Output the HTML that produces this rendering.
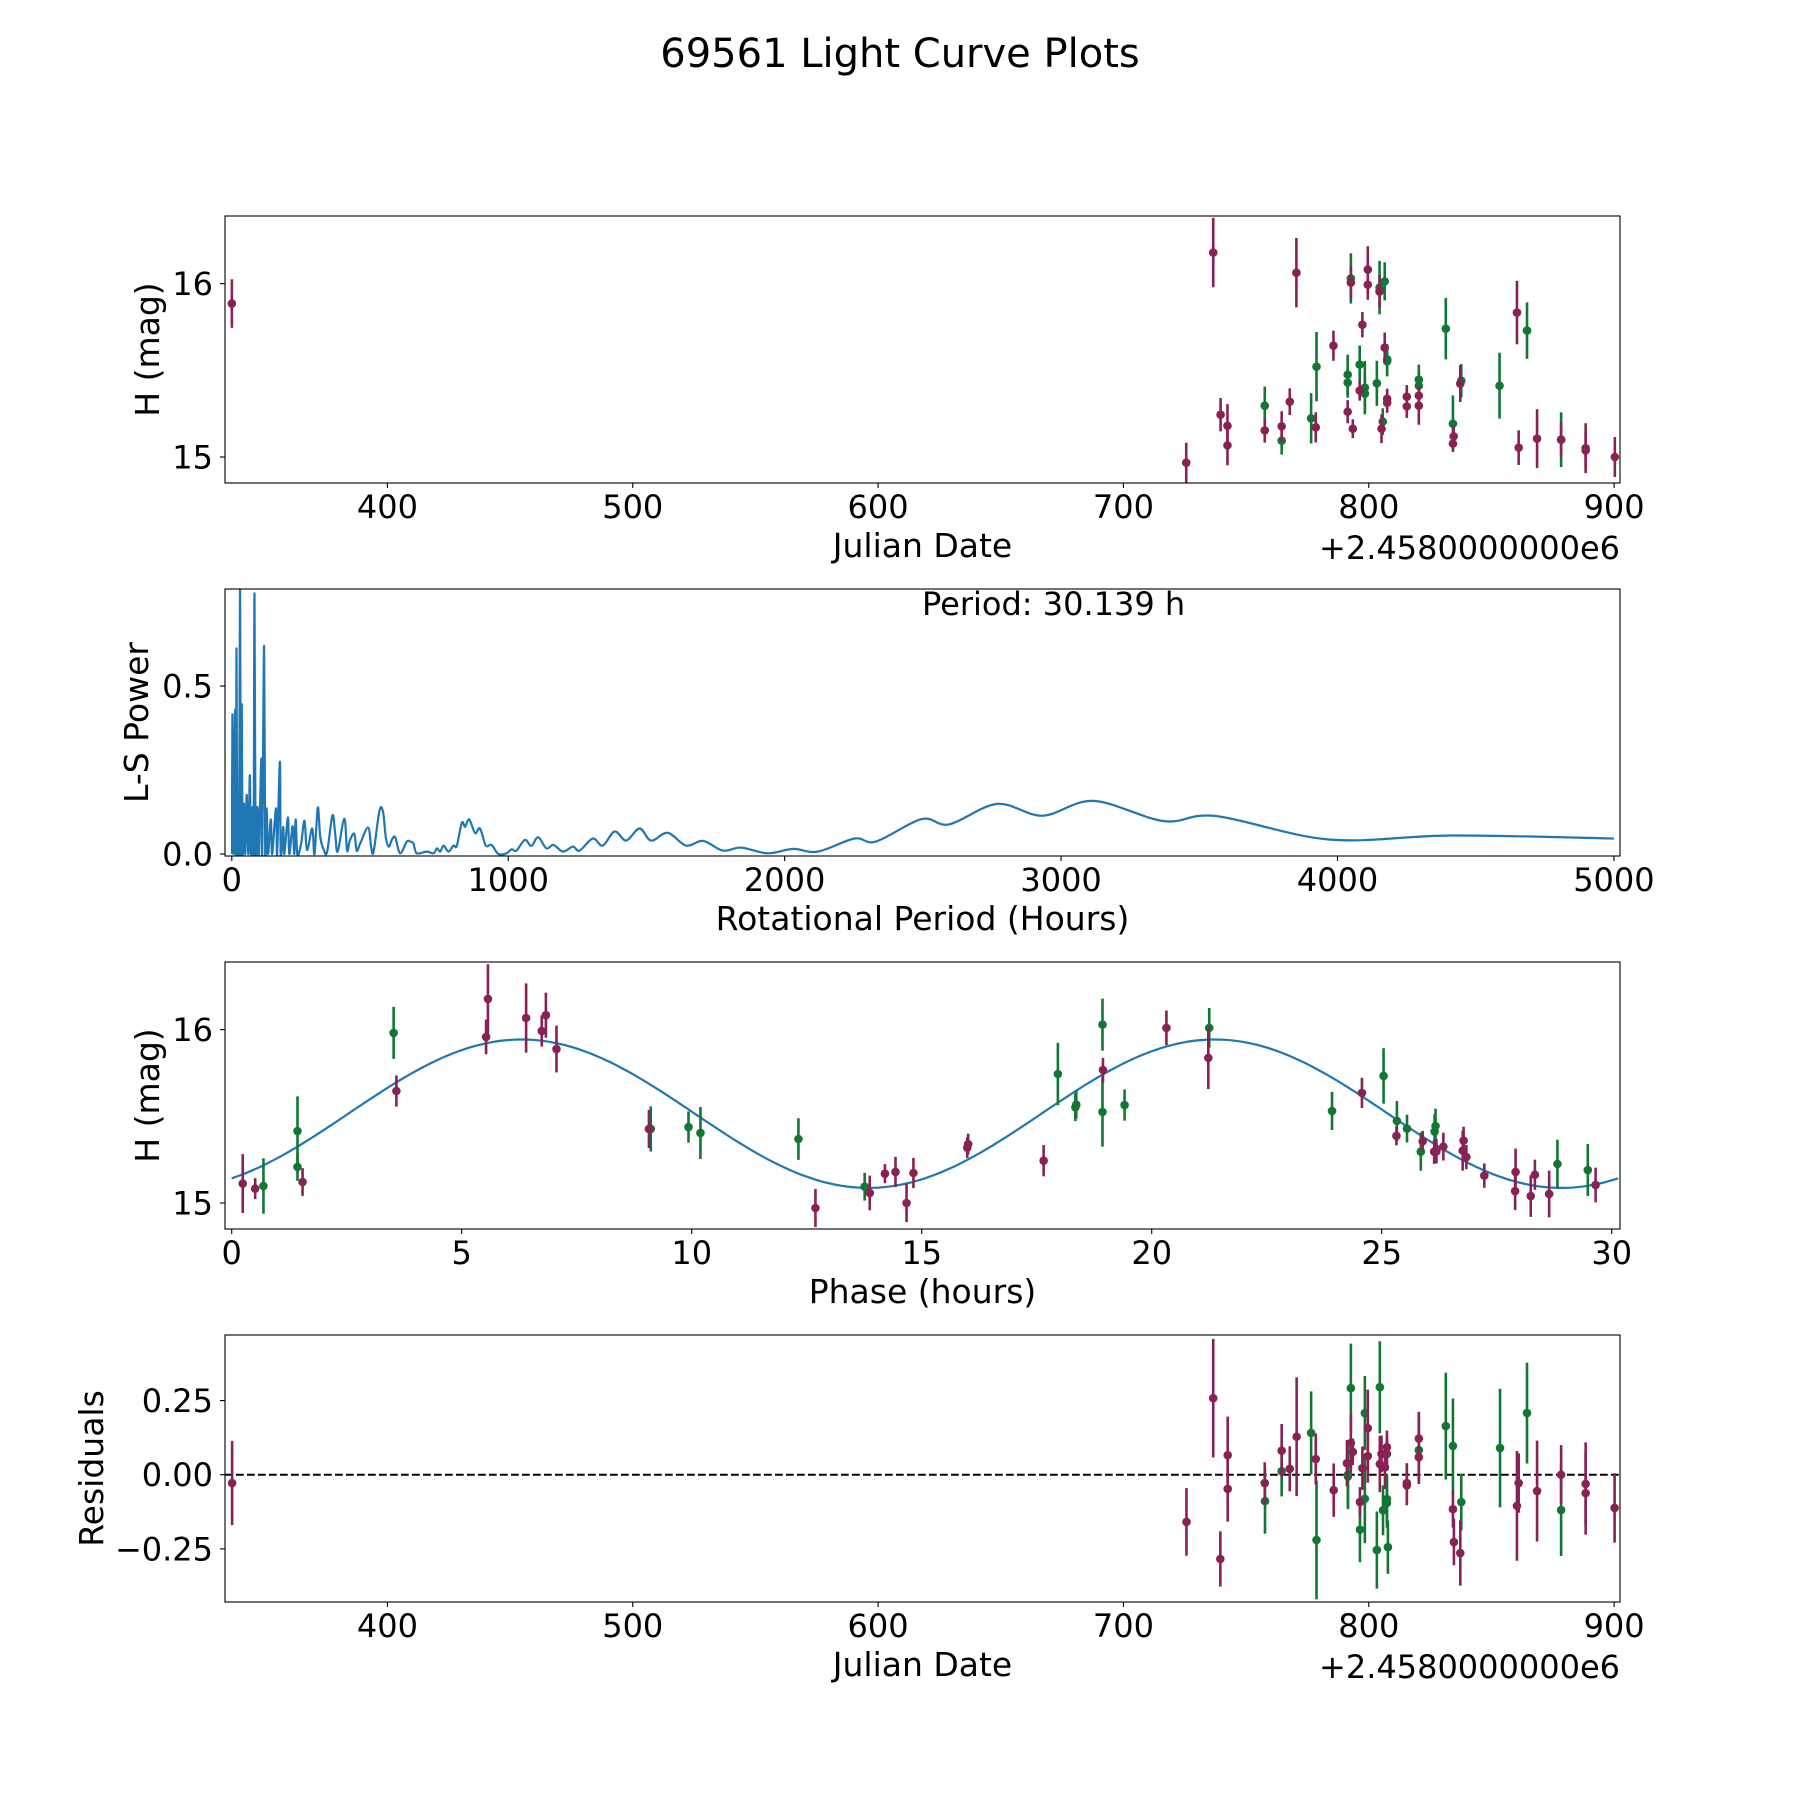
<!DOCTYPE html>
<html><head><meta charset="utf-8"><title>69561 Light Curve Plots</title>
<style>
html,body{margin:0;padding:0;background:#fff;}
svg{display:block;font-family:"DejaVu Sans","Liberation Sans",sans-serif;}
</style></head>
<body>
<svg id="fig" width="1800" height="1800" viewBox="0 0 1800 1800" xmlns="http://www.w3.org/2000/svg">
<rect x="0" y="0" width="1800" height="1800" fill="#fff"/>
<text x="900" y="67" font-size="40" text-anchor="middle">69561 Light Curve Plots</text>
</svg>
<script>
// ---------- Panel 1: raw light curve ----------
const rawDates=[336.6,725.6,736.6,739.6,742.4,742.4,757.6,757.6,764.5,764.5,767.8,770.5,776.5,778.4,778.7,785.6,791.4,791.4,791.4,792.7,792.7,793.5,796.3,796.3,797.4,798.4,798.4,799.6,799.6,803.3,804.4,804.4,805.2,805.7,806.5,806.5,807.5,807.5,807.5,807.5,815.5,815.5,820.4,820.4,820.4,820.4,831.4,834.3,834.6,834.3,837.3,837.7,853.3,860.4,861.1,864.5,868.6,878.4,878.4,888.4,888.4,900.3];
const rawMags=[15.885,14.967,16.179,15.244,15.18,15.067,15.296,15.153,15.094,15.177,15.319,16.063,15.223,15.171,15.521,15.642,15.475,15.429,15.261,16.03,16.006,15.163,15.533,15.383,15.763,15.4,15.365,16.081,15.994,15.425,15.977,15.954,15.163,15.204,16.013,15.631,15.563,15.552,15.336,15.313,15.348,15.292,15.446,15.411,15.354,15.296,15.74,15.192,15.119,15.077,15.423,15.44,15.411,15.833,15.054,15.729,15.106,15.1,15.1,15.051,15.038,15.0];
const rawErrs=[0.14,0.115,0.2,0.096,0.125,0.115,0.11,0.07,0.08,0.087,0.077,0.2,0.145,0.087,0.2,0.087,0.115,0.087,0.067,0.145,0.096,0.054,0.11,0.058,0.073,0.154,0.1,0.135,0.087,0.13,0.154,0.096,0.083,0.077,0.11,0.087,0.087,0.087,0.058,0.058,0.067,0.067,0.087,0.087,0.058,0.11,0.177,0.163,0.058,0.04,0.106,0.096,0.19,0.183,0.1,0.163,0.17,0.158,0.1,0.144,0.1,0.115];
const rawFilters="mmmmmmgmgmmmgmgmggmgmmgmmggmmggmmggmggmmmmggmmggmmmggmmgmgmmmm";

// ---------- Panel 2: Lomb-Scargle periodogram ----------
const lsPeriod=[1,2,7,12,15,17,20,26,30,33,36,39,44,49,54,60,65,69,75,79,82,86,93,98,107,110,117,121,126,131,141,146,160,164,174,177,186,190,203,208,220,226,231,237,250,263,272,291,299,311,320,333,345,364,374,383,407,417,427,443,452,465,493,504,513,534,547,557,568,579,591,609,633,645,657,669,705,730,742,754,766,784,802,814,832,844,859,880,898,919,940,964,994,1012,1030,1060,1084,1108,1138,1164,1198,1234,1258,1306,1342,1385,1427,1475,1517,1577,1643,1705,1776,1843,1938,2031,2120,2253,2330,2496,2595,2769,2933,3117,3372,3560,3970,4413,5000];
const lsPower=[0.0,0.416,0.0,0.43,0.0,0.612,0.0,0.0,0.8,0.0,0.446,0.0,0.15,0.0,0.176,0.0,0.235,0.0,0.14,0.0,0.776,0.0,0.14,0.0,0.285,0.0,0.62,0.0,0.136,0.0,0.103,0.0,0.136,0.0,0.275,0.0,0.081,0.0,0.109,0.0,0.083,0.0,0.103,0.0,0.027,0.099,0.012,0.076,0.0,0.138,0.05,0.012,0.007,0.115,0.06,0.007,0.105,0.01,0.04,0.06,0.01,0.032,0.079,0.022,0.007,0.128,0.126,0.05,0.022,0.042,0.05,0.002,0.037,0.037,0.032,0.002,0.007,0.002,0.017,0.007,0.025,0.007,0.025,0.024,0.093,0.081,0.103,0.062,0.076,0.025,0.027,0.0,0.002,0.014,0.01,0.042,0.024,0.05,0.017,0.027,0.007,0.022,0.01,0.046,0.025,0.067,0.04,0.076,0.04,0.063,0.025,0.039,0.01,0.019,0.002,0.015,0.007,0.046,0.037,0.104,0.088,0.149,0.114,0.158,0.098,0.113,0.043,0.055,0.046];
const periodLabel="Period: 30.139 h";

// ---------- Panel 3: phased light curve ----------
const phaseHours=[0.24,0.51,0.69,1.43,1.43,1.54,3.52,3.58,5.53,5.57,6.40,6.74,6.83,7.06,9.07,9.11,9.93,10.19,12.32,12.69,13.76,13.87,14.2,14.43,14.67,14.82,15.99,16.01,17.65,17.96,18.34,18.36,18.93,18.94,18.93,19.41,20.32,21.25,21.23,23.92,24.57,25.04,25.33,25.32,25.55,25.85,25.89,26.14,26.17,26.15,26.19,26.34,26.78,26.76,26.84,27.23,27.91,27.9,28.24,28.33,28.64,28.82,29.48,29.65];
const phaseMags=[15.112,15.083,15.098,15.415,15.208,15.121,15.981,15.646,15.958,16.177,16.067,15.992,16.083,15.888,15.427,15.427,15.438,15.404,15.369,14.971,15.094,15.058,15.169,15.179,15.0,15.173,15.319,15.34,15.244,15.744,15.552,15.567,16.029,15.767,15.525,15.565,16.01,16.01,15.837,15.531,15.635,15.733,15.473,15.387,15.429,15.296,15.356,15.296,15.444,15.412,15.298,15.325,15.36,15.302,15.265,15.158,15.179,15.069,15.04,15.163,15.052,15.225,15.19,15.104];
const phaseErrs=[0.17,0.06,0.16,0.2,0.08,0.08,0.15,0.09,0.1,0.2,0.2,0.09,0.13,0.135,0.11,0.13,0.09,0.15,0.12,0.11,0.08,0.1,0.055,0.087,0.11,0.087,0.06,0.06,0.09,0.18,0.08,0.08,0.15,0.07,0.2,0.09,0.1,0.115,0.18,0.11,0.087,0.16,0.115,0.055,0.08,0.11,0.06,0.07,0.1,0.1,0.07,0.08,0.08,0.115,0.07,0.07,0.135,0.11,0.12,0.087,0.135,0.14,0.15,0.1];
const phaseFilters="mmgggmgmmmmmmmmggggmgmmmmmmmmggggmggmgmgmggmggmmggmmmmmmmmmmmggm";
const fitMean=15.515, fitAmp=0.428, fitPeak=6.3, fitPeriod=30.139;

// ---------- Panel 4: residuals ----------
const resDates=[336.7,725.7,736.6,739.5,742.5,742.5,757.6,757.7,764.5,764.5,767.8,770.6,776.5,778.4,778.7,785.7,791.1,791.5,791.5,792.7,792.7,793.5,796.4,796.4,797.4,798.4,798.4,799.6,799.6,803.3,804.5,804.5,805.2,805.8,806.6,807.4,807.4,807.8,807.4,807.4,815.5,815.5,820.4,820.4,820.4,831.4,834.3,834.3,834.7,837.3,837.7,853.5,860.4,861.1,864.5,868.6,878.4,878.4,888.4,888.4,900.2];
const resVals=[-0.028,-0.159,0.258,-0.284,0.066,-0.048,-0.028,-0.089,0.081,0.012,0.02,0.128,0.141,0.053,-0.22,-0.052,0.039,0.0,-0.006,0.292,0.107,0.077,-0.092,-0.185,0.022,0.208,-0.081,0.157,0.063,-0.254,0.295,0.036,0.07,-0.12,0.025,-0.082,-0.095,-0.244,0.093,0.07,-0.028,-0.036,0.122,0.083,0.059,0.164,0.097,-0.116,-0.227,-0.264,-0.092,0.09,-0.105,-0.028,0.208,-0.055,0.0,-0.119,-0.031,-0.062,-0.112];
const resErrs=[0.142,0.114,0.2,0.093,0.13,0.11,0.07,0.11,0.09,0.085,0.076,0.2,0.14,0.086,0.2,0.09,0.078,0.11,0.11,0.15,0.1,0.045,0.05,0.11,0.073,0.125,0.15,0.13,0.09,0.13,0.155,0.095,0.062,0.084,0.073,0.084,0.084,0.09,0.056,0.056,0.067,0.067,0.09,0.11,0.09,0.18,0.16,0.062,0.078,0.11,0.095,0.2,0.185,0.1,0.17,0.17,0.1,0.155,0.14,0.14,0.117];
const resFilters="mmmmmmmgmgmmgmgmmgggmmmgmggmmggmmgmgggmmmmmgmggmmmggmmgmmgmmm";

const NS="http://www.w3.org/2000/svg";
const svg=document.getElementById('fig');
const COL={m:'#882255',g:'#117733'};
function mk(tag,attrs,parent){const e=document.createElementNS(NS,tag);for(const k in attrs)e.setAttribute(k,attrs[k]);(parent||svg).appendChild(e);return e;}
function scale(d0,d1,r0,r1){return v=>r0+(v-d0)*(r1-r0)/(d1-d0);}

const L=225,R=1620,W=R-L;
function makePanel(name,top,bottom,xmin,xmax,ymin,ymax){
  const g=mk('g',{});
  
  
  const clipId=name+'-clip';
  const cp=mk('clipPath',{id:clipId},g);
  mk('rect',{x:L,y:top,width:W,height:bottom-top},cp);
  const plot=mk('g',{'clip-path':'url(#'+clipId+')'},g);
  
  
  return {g,plot,top,bottom,x:scale(xmin,xmax,L,R),y:scale(ymin,ymax,bottom,top)};
}
function frame(p,name){
  const r=mk('rect',{x:L,y:p.top,width:W,height:p.bottom-p.top,fill:'none',stroke:'#000','stroke-width':1.1},p.g);
  
  
}
function xTicks(p,vals,labels,name){
  vals.forEach((v,i)=>{
    const X=p.x(v);
    const t=mk('line',{x1:X,x2:X,y1:p.bottom,y2:p.bottom+5,stroke:'#000','stroke-width':1.1},p.g);
    
    
    const tx=mk('text',{x:X,y:p.bottom+35,'font-size':32,'text-anchor':'middle'},p.g);
    tx.textContent=labels[i];
    
    
  });
}
function yTicks(p,vals,labels,name){
  vals.forEach((v,i)=>{
    const Y=p.y(v);
    const t=mk('line',{x1:L-5,x2:L,y1:Y,y2:Y,stroke:'#000','stroke-width':1.1},p.g);
    
    
    const tx=mk('text',{x:L-12,y:Y+11.5,'font-size':32,'text-anchor':'end'},p.g);
    tx.textContent=labels[i];
    
    
  });
}
function xLabel(p,text,name){
  const t=mk('text',{x:(L+R)/2,y:p.bottom+74,'font-size':33,'text-anchor':'middle'},p.g);
  t.textContent=text;
  
  
}
function yLabel(p,text,bx,name){
  const cy=(p.top+p.bottom)/2;
  const t=mk('text',{x:bx,y:cy,'font-size':33,'text-anchor':'middle',transform:'rotate(-90 '+bx+' '+cy+')'},p.g);
  t.textContent=text;
  
  
}
function offsetText(p,name){
  const t=mk('text',{x:R,y:p.bottom+76,'font-size':32,'text-anchor':'end'},p.g);
  t.textContent='+2.4580000000e6';
  
  
}
function errPoints(p,xs,ys,es,fs,name){
  ['g','m'].forEach(c=>{
    xs.forEach((xv,i)=>{
      if(fs[i]!==c)return;
      const X=p.x(xv),Y=p.y(ys[i]);
      const eb=mk('line',{x1:X,x2:X,y1:p.y(ys[i]-es[i]),y2:p.y(ys[i]+es[i]),stroke:COL[c],'stroke-width':2.6},p.plot);
      
      
      const pt=mk('circle',{cx:X,cy:Y,r:4.3,fill:COL[c]},p.plot);
      
      
    });
  });
}

// Panel 1
const p1=makePanel('raw-light-curve-panel',216,483,333.8,902.4,14.85,16.39);
errPoints(p1,rawDates,rawMags,rawErrs,rawFilters,'raw-mag');
frame(p1,'raw-light-curve');
xTicks(p1,[400,500,600,700,800,900],['400','500','600','700','800','900'],'raw');
yTicks(p1,[15,16],['15','16'],'raw');
xLabel(p1,'Julian Date','raw');
yLabel(p1,'H (mag)',159,'raw');
offsetText(p1,'raw');

// Panel 2
const p2=makePanel('periodogram-panel',589,856,-24.6,5022,-0.006,0.789);
const P=lsPeriod.map((v,i)=>[p2.x(v),p2.y(lsPower[i])]);
let d='M'+P[0][0].toFixed(1)+','+P[0][1].toFixed(1);
for(let i=0;i<P.length-1;i++){
  const p0=P[Math.max(0,i-1)],a=P[i],b=P[i+1],p3=P[Math.min(P.length-1,i+2)];
  const c1=[a[0]+(b[0]-p0[0])/6,a[1]+(b[1]-p0[1])/6];
  const c2=[b[0]-(p3[0]-a[0])/6,b[1]-(p3[1]-a[1])/6];
  d+=' C'+c1[0].toFixed(1)+','+c1[1].toFixed(1)+' '+c2[0].toFixed(1)+','+c2[1].toFixed(1)+' '+b[0].toFixed(1)+','+b[1].toFixed(1);
}
const lsLine=mk('path',{d:d,fill:'none',stroke:'#1f77b4','stroke-width':2.2,'stroke-linejoin':'round'},p2.plot);


frame(p2,'periodogram');
xTicks(p2,[0,1000,2000,3000,4000,5000],['0','1000','2000','3000','4000','5000'],'periodogram');
yTicks(p2,[0,0.5],['0.0','0.5'],'periodogram');
xLabel(p2,'Rotational Period (Hours)','periodogram');
yLabel(p2,'L-S Power',148,'periodogram');
const pl=mk('text',{x:922,y:615,'font-size':32},p2.g);
pl.textContent=periodLabel;



// Panel 3
const p3p=makePanel('phased-light-curve-panel',962,1229,-0.146,30.18,14.85,16.39);
const curvePts=[];
for(let k=0;k<=300;k++){const ph=fitPeriod*k/300;const m=fitMean+fitAmp*Math.cos(2*Math.PI*2*(ph-fitPeak)/fitPeriod);curvePts.push(p3p.x(ph).toFixed(1)+','+p3p.y(m).toFixed(1));}
const fitLine=mk('polyline',{points:curvePts.join(' '),fill:'none',stroke:'#1f77b4','stroke-width':2.2},p3p.plot);


errPoints(p3p,phaseHours,phaseMags,phaseErrs,phaseFilters,'phased-mag');
frame(p3p,'phased-light-curve');
xTicks(p3p,[0,5,10,15,20,25,30],['0','5','10','15','20','25','30'],'phase');
yTicks(p3p,[15,16],['15','16'],'phase');
xLabel(p3p,'Phase (hours)','phase');
yLabel(p3p,'H (mag)',159,'phase');

// Panel 4
const p4=makePanel('residuals-panel',1335,1602,333.8,902.4,-0.429,0.471);
const zl=mk('line',{x1:L,x2:R,y1:p4.y(0),y2:p4.y(0),stroke:'#000','stroke-width':2,'stroke-dasharray':'7.7,3.3'},p4.plot);


errPoints(p4,resDates,resVals,resErrs,resFilters,'residual');
frame(p4,'residuals');
xTicks(p4,[400,500,600,700,800,900],['400','500','600','700','800','900'],'residuals');
yTicks(p4,[0.25,0,-0.25],['0.25','0.00','\u22120.25'],'residuals');
xLabel(p4,'Julian Date','residuals');
yLabel(p4,'Residuals',103,'residuals');
offsetText(p4,'residuals');
</script>
</body></html>
